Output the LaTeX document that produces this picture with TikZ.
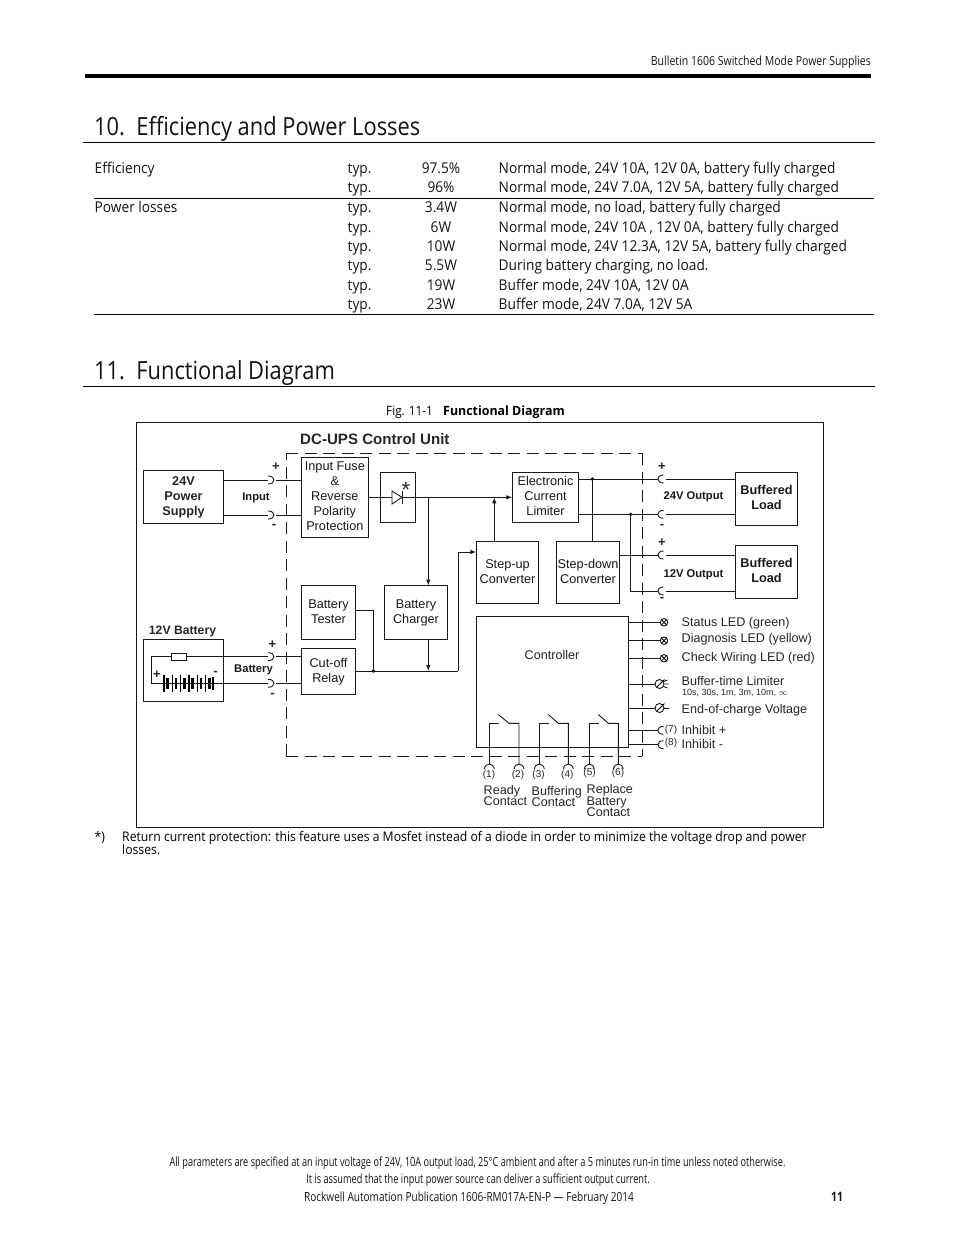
\documentclass[tikz,border=0pt]{standalone}
\usepackage{fontspec}
\usetikzlibrary{arrows.meta}
\setmainfont{Open Sans}[FakeStretch=0.92]
\newfontfamily\ttlf{Open Sans}[FakeStretch=0.875]
\newfontfamily\figb{Open Sans}[FakeStretch=0.97]
\newfontfamily\dgm{Liberation Sans}
\newfontfamily\cond{Open Sans}[FakeStretch=0.73]
\newfontfamily\condb{Open Sans}[FakeStretch=0.797]
\newfontfamily\condh{Open Sans}[FakeStretch=0.836]
\newcommand\mybox[6]{\node[bx,minimum width={(#4)-(#2)},minimum height={(#5)-(#3)}] (#1) at ({((#2)+(#4))/2},{((#3)+(#5))/2}) {#6\vphantom{g}};}
\newcommand\cupR[2]{\draw[wire] ({#1-2},{#2-4}) .. controls ({#1+6},{#2-4}) and ({#1+6},{#2+4}) .. ({#1-2},{#2+4});}
\newcommand\cupL[2]{\draw[wire] ({#1+5},{#2-4}) .. controls ({#1-2.5},{#2-4}) and ({#1-2.5},{#2+4}) .. ({#1+5},{#2+4});}
\newcommand\cupU[2]{\draw[wire] ({#1-5},{#2+5}) .. controls ({#1-4},{#2-1.5}) and ({#1+4},{#2-1.5}) .. ({#1+5},{#2+5});}
\newcommand\sw[3]{% switch: name, left x, right x
  \coordinate (#1a) at (#2,723.3); \coordinate (#1b) at ({#3-10},723.3); \coordinate (#1c) at (#3,723.3);
  \draw[wire] (#2,764) -- (#1a) -- ({#2+10},723.3);
  \draw[wire] ({#2+9},714.5) -- (#1b) -- (#1c) -- (#3,764);
  \cupU{#2}{764}\cupU{#3}{764}}
\tikzset{
  wire/.style={line width=.9pt,black!90},
  bx/.style={draw,line width=.9pt,black!90,fill=white,inner sep=0pt,outer sep=0pt,align=center,font=\dgm\fontsize{12.7}{15}\selectfont},
  lb/.style={inner sep=0pt,font=\dgm\fontsize{12.6}{15}\selectfont,text=black!85},
  rl/.style={lb,anchor=base west},
  sgn/.style={lb,font=\dgm\bfseries\fontsize{13}{14}\selectfont},
  blb/.style={inner sep=0pt,align=center,font=\dgm\bfseries\fontsize{11.2}{14}\selectfont,text=black!90},
  txt/.style={inner sep=0pt,anchor=base west,font=\fontsize{14.9}{18}\selectfont,text=black!92},
  val/.style={inner sep=0pt,anchor=base,font=\fontsize{14.9}{18}\selectfont,text=black!92},
  ttl/.style={inner sep=0pt,anchor=base west,font=\ttlf\fontsize{25}{30}\selectfont,text=black!92},
  foot/.style={inner sep=0pt,anchor=base,font=\cond\fontsize{12.6}{15}\selectfont,text=black!92},
  arr/.style={wire,-{Latex[length=6pt,width=4.5pt]}},
  dot/.style={circle,fill=black,inner sep=0pt,minimum size=3.6pt},
  led/.style={circle,draw,line width=.8pt,inner sep=0pt,minimum size=7.5pt},
  pot/.style={circle,draw,line width=.8pt,inner sep=0pt,minimum size=9pt},
  rule/.style={line width=.9pt,black}
}
\begin{document}
\begin{tikzpicture}[x=1pt,y=-1pt]
\useasboundingbox (0,0) rectangle (954,1235);
\fill[white] (0,0) rectangle (954,1235);
% header
\node[foot,anchor=base east,font=\condh\fontsize{12.6}{15}\selectfont] (hdr) at (871,65) {Bulletin 1606 Switched Mode Power Supplies};
\draw[line width=3.4pt] (85,76) -- (871,76);
% sections
\node[ttl] (s10) at (94,135) {10.\ \ Efficiency and Power Losses};
\draw[rule] (83,142.5) -- (875,142.5);
\node[txt] (t1) at (94.5,173) {Efficiency};
\node[txt] (t2) at (94.5,212) {Power losses};
\foreach \y/\v/\d in {
 173/97.5\%/{Normal mode, 24V 10A, 12V 0A, battery fully charged},
 192/96\%/{Normal mode, 24V 7.0A, 12V 5A, battery fully charged},
 212/3.4W/{Normal mode, no load, battery fully charged},
 232/6W/{Normal mode, 24V 10A , 12V 0A, battery fully charged},
 251/10W/{Normal mode, 24V 12.3A, 12V 5A, battery fully charged},
 270/5.5W/{During battery charging, no load.},
 290/19W/{Buffer mode, 24V 10A, 12V 0A},
 309/23W/{Buffer mode, 24V 7.0A, 12V 5A}}{
 \node[txt] at (347.5,\y) {typ.};
 \node[val] at (441,\y) {\v};
 \node[txt] at (498.5,\y) {\d};
}
\draw[rule] (94,198) -- (874,198);
\draw[rule] (94,314.5) -- (874,314.5);
\node[ttl] (s11) at (94,379) {11.\ \ Functional Diagram};
\draw[rule] (83,386.5) -- (875,386.5);
\node[inner sep=0pt,anchor=base west,font=\fontsize{12.8}{15}\selectfont] (fig) at (386,415) {Fig. 11-1};
\node[inner sep=0pt,anchor=base west,font=\figb\bfseries\fontsize{12.8}{15}\selectfont] (figt) at (443,415) {Functional Diagram};
% frame
\draw[line width=.9pt,black!90] (136,422.5) rectangle (823.5,827);
\draw[wire,dash pattern=on 12pt off 6.5pt] (286,756) -- (642,756);
\draw[wire,dash pattern=on 12pt off 6.5pt] (286,453) -- (642,453);
\draw[wire,dash pattern=on 12pt off 6.5pt] (642,453) -- (642,756);
\draw[wire,dash pattern=on 12pt off 6.5pt] (286,756) -- (286,453);
\node[lb,anchor=west,font=\dgm\bfseries\fontsize{15.1}{16}\selectfont] (title) at (300,439) {DC-UPS Control Unit};
% boxes
\mybox{sup}{143.5}{470.5}{223.5}{523}{}
\node[lb,align=center,font=\dgm\bfseries\fontsize{12.7}{15}\selectfont] (suptx) at (183.5,497) {24V\\Power\\Supply};
\mybox{fuse}{301.7}{457}{368}{537}{Input Fuse\\\&\\Reverse\\Polarity\\Protection}
\mybox{diobox}{380.7}{472}{415.7}{522}{}
\mybox{tester}{301.7}{585.5}{355.3}{639.5}{Battery\\Tester}
\mybox{charger}{384.3}{585.5}{447.7}{639.5}{Battery\\Charger}
\mybox{relay}{301.7}{648.7}{355.3}{694.3}{Cut-off\\Relay}
\mybox{bat}{143.5}{639.5}{223.5}{701}{}
\mybox{lim}{512.3}{472.5}{578.7}{522.3}{Electronic\\Current\\Limiter}
\mybox{up}{476.3}{541.5}{538.7}{603.3}{Step-up\\Converter}
\mybox{down}{556.3}{541.5}{619.7}{603.3}{Step-down\\Converter}
\mybox{load1}{735.5}{472.5}{797.5}{525.5}{\bfseries Buffered\\\bfseries Load}
\mybox{load2}{735.5}{545.5}{797.5}{598.3}{\bfseries Buffered\\\bfseries Load}
\mybox{ctrl}{476.3}{616.5}{628.7}{747}{}
\node[lb] (ctl) at (552,655) {Controller};
% input
\coordinate (ia1) at (268,480); \coordinate (ib1) at (276,480);
\coordinate (ia2) at (268,515); \coordinate (ib2) at (276,515);
\draw[wire] (sup.east |- ia1) -- (ia1); \draw[wire] (ib1) -- (fuse.west |- ib1);
\draw[wire] (sup.east |- ia2) -- (ia2); \draw[wire] (ib2) -- (fuse.west |- ib2);
\cupR{270}{480}\cupR{270}{515}
\node[sgn] at (276,467) {+};
\node[sgn] at (274,526) {-};
\node[blb] (inp) at (256,497.5) {Input};
% diode
\coordinate (dA) at (392,497.3); \coordinate (dK) at (402,497.3);
\coordinate (j1) at (428.3,497.3);
\draw[wire] (fuse.east |- dA) -- (dA);
\draw[wire] (392,491) -- (392,504) -- (402,497.3) -- cycle;
\draw[wire] (402,491) -- (402,504);
\draw[arr] (dK) -- (lim.west |- dK);
\node[lb,font=\dgm\fontsize{22}{22}\selectfont] (star) at (406,490) {*};
\draw[arr] (j1) -- (charger.north -| j1);
% left-lower
\coordinate (bus) at (373.3,671);
\coordinate (busr) at (458.3,671);
\coordinate (upin) at (458.3,552);
\coordinate (tst) at (355.3,610);
\coordinate (chg) at (428.3,671);
\draw[wire] (relay.east |- bus) -- (busr);
\draw[arr] (busr) -- (upin) -- (up.west |- upin);
\draw[wire] (tst) -| (bus);
\node[dot] (d1) at (bus) {};
\draw[arr] (charger.south -| j1) -- (chg);
% battery
\coordinate (ba1) at (268,656.7); \coordinate (bb1) at (276,656.7);
\coordinate (ba2) at (268,683.3); \coordinate (bb2) at (276,683.3);
\node[draw,wire,fill=white,minimum width=15.5pt,minimum height=6.7pt,inner sep=0pt] (bfuse) at (179,656.7) {};
\draw[wire] (bfuse.west) -- (151.3,656.7) -- (151.3,683.3) -- (162,683.3);
\draw[wire] (bfuse.east) -- (ba1);
\draw[wire] (162,683.3) -- (ba2);
\foreach \x in {164,172.3,180.6,189,197.3,205.6}{
  \draw[line width=1.5pt] (\x,674.5) -- (\x,691.5);
  \draw[line width=2.6pt] ({\x+3.6},678) -- ({\x+3.6},688.5);
}
\draw[line width=2.6pt] (213,677) -- (213,690);
\draw[wire] (bb1) -- (relay.west |- bb1);
\draw[wire] (bb2) -- (relay.west |- bb2);
\cupR{270}{656.7}\cupR{270}{683.3}
\node[lb,anchor=south,font=\dgm\bfseries\fontsize{12.2}{14}\selectfont] (b12) at (182.5,637) {12V Battery};
\node[sgn] at (157,675) {+};
\node[sgn] at (215.5,673) {-};
\node[sgn] at (272.5,645) {+};
\node[sgn] at (272.5,695) {-};
\node[blb] (batl) at (253.5,670) {Battery};
% outputs
\coordinate (oa1) at (658,479); \coordinate (ob1) at (666,479);
\coordinate (oa2) at (658,514.3); \coordinate (ob2) at (666,514.3);
\coordinate (oa3) at (658,555); \coordinate (ob3) at (666,555);
\coordinate (oa4) at (658,591); \coordinate (ob4) at (666,591);
\coordinate (j2) at (592.3,479); \coordinate (j3) at (630.7,514.3);
\coordinate (upt) at (494.3,541.5); \coordinate (upj) at (494.3,497.3);
\draw[wire] (lim.east |- oa1) -- (oa1); \draw[wire] (ob1) -- (load1.west |- ob1);
\draw[wire] (lim.east |- oa2) -- (oa2); \draw[wire] (ob2) -- (load1.west |- ob2);
\draw[wire] (down.east |- oa3) -- (oa3); \draw[wire] (ob3) -- (load2.west |- ob3);
\draw[wire] (j3) |- (oa4); \draw[wire] (ob4) -- (load2.west |- ob4);
\draw[wire] (down.north -| j2) -- (j2);
\node[dot] (d2) at (j2) {}; \node[dot] (d3) at (j3) {};
\draw[arr] (upt) -- (upj);
\cupL{658.5}{479}\cupL{658.5}{514.3}\cupL{658.5}{555}\cupL{658.5}{591}
\node[sgn] at (662,466.5) {+};
\node[sgn] at (662,526) {-};
\node[sgn] at (662,542.5) {+};
\node[sgn] at (662,599.5) {-};
\node[blb] (o24) at (693.5,496.5) {24V Output};
\node[blb] (o12) at (693.5,574.5) {12V Output};
% LEDs
\node[led] (l1) at (664,622.3) {};
\node[led] (l2) at (664,640.7) {};
\node[led] (l3) at (664,658.3) {};
\foreach \n in {l1,l2,l3}{
  \draw[line width=.8pt] (\n.45) -- (\n.225);
  \draw[line width=.8pt] (\n.135) -- (\n.315);
  \draw[wire] (ctrl.east |- \n) -- (\n);
}
\node[rl] at (681.5,626.3) {Status LED (green)};
\node[rl] at (681.5,642.3) {Diagnosis LED (yellow)};
\node[rl] at (681.5,661.3) {Check Wiring LED (red)};
% pots
\node[pot] (p1) at (659.5,684) {};
\node[pot] (p2) at (659.5,708) {};
\draw[wire] (ctrl.east |- p1) -- (p1); \draw[wire] (ctrl.east |- p2) -- (p2);
\draw[line width=.8pt] (657,687) -- (664.5,679.5);
\draw[line width=.8pt] (657,711) -- (664.5,703.5);
\draw[line width=.8pt] (663.5,681.5) -- (667.5,680) (664.5,684) -- (668.5,684) (663.5,686.5) -- (667.5,688);
\draw[line width=.8pt] (664,708) -- (669,708);
\node[rl] at (681.5,685.3) {Buffer-time Limiter};
\node[rl,font=\dgm\fontsize{9}{10}\selectfont] at (682,695) {10s, 30s, 1m, 3m, 10m, $\infty$};
\node[rl] at (681.5,713.3) {End-of-charge Voltage};
% inhibit
\coordinate (ih1) at (658,730.3); \coordinate (ih2) at (658,744.7);
\draw[wire] (ctrl.east |- ih1) -- (ih1);
\draw[wire] (ctrl.east |- ih2) -- (ih2);
\cupL{658.5}{730.3}\cupL{658.5}{744.7}
\node[lb,font=\dgm\fontsize{10}{12}\selectfont] at (671,730) {(7)};
\node[lb,font=\dgm\fontsize{10}{12}\selectfont] at (671,743) {(8)};
\node[rl] at (681.5,734.5) {Inhibit +};
\node[rl] at (681.5,748.5) {Inhibit -};
% contacts
\sw{sa}{489.3}{519}
\sw{sb}{539.3}{568.3}
\sw{sc}{589.3}{618.3}
\foreach \x/\y/\t in {489/775/1,518/775/2,538.6/775/3,567.3/775/4,589.6/773/5,618/773/6}{
  \node[lb,font=\dgm\fontsize{10}{12}\selectfont] at (\x,\y) {(\t)};
}
\node[rl] at (483.5,794.3) {Ready};
\node[rl] at (483.5,805.3) {Contact};
\node[rl] at (531.5,795.3) {Buffering};
\node[rl] at (531.5,806.3) {Contact};
\node[rl] at (586.5,793.3) {Replace};
\node[rl] at (586.5,805) {Battery};
\node[rl] at (586.5,816.3) {Contact};
% footnote
\node[inner sep=0pt,anchor=base west,font=\fontsize{13.28}{16}\selectfont] (fn) at (94.5,841) {*)};
\node[inner sep=0pt,anchor=base west,font=\fontsize{13.28}{16}\selectfont] (fn1) at (122,841) {Return current protection: this feature uses a Mosfet instead of a diode in order to minimize the voltage drop and power};
\node[inner sep=0pt,anchor=base west,font=\fontsize{13.28}{16}\selectfont] (fn2) at (122,854) {losses.};
% footer
\node[foot] (f1) at (477.5,1166) {All parameters are specified at an input voltage of 24V, 10A output load, 25°C ambient and after a 5 minutes run-in time unless noted otherwise.};
\node[foot] (f2) at (478,1183) {It is assumed that the input power source can deliver a sufficient output current.};
\node[foot,font=\condb\fontsize{12.6}{15}\selectfont] (f3) at (469,1201) {Rockwell Automation Publication 1606-RM017A-EN-P — February 2014};
\node[foot,font=\condb\bfseries\fontsize{13}{15}\selectfont] (pg) at (837,1201) {11};
\end{tikzpicture}
\end{document}
